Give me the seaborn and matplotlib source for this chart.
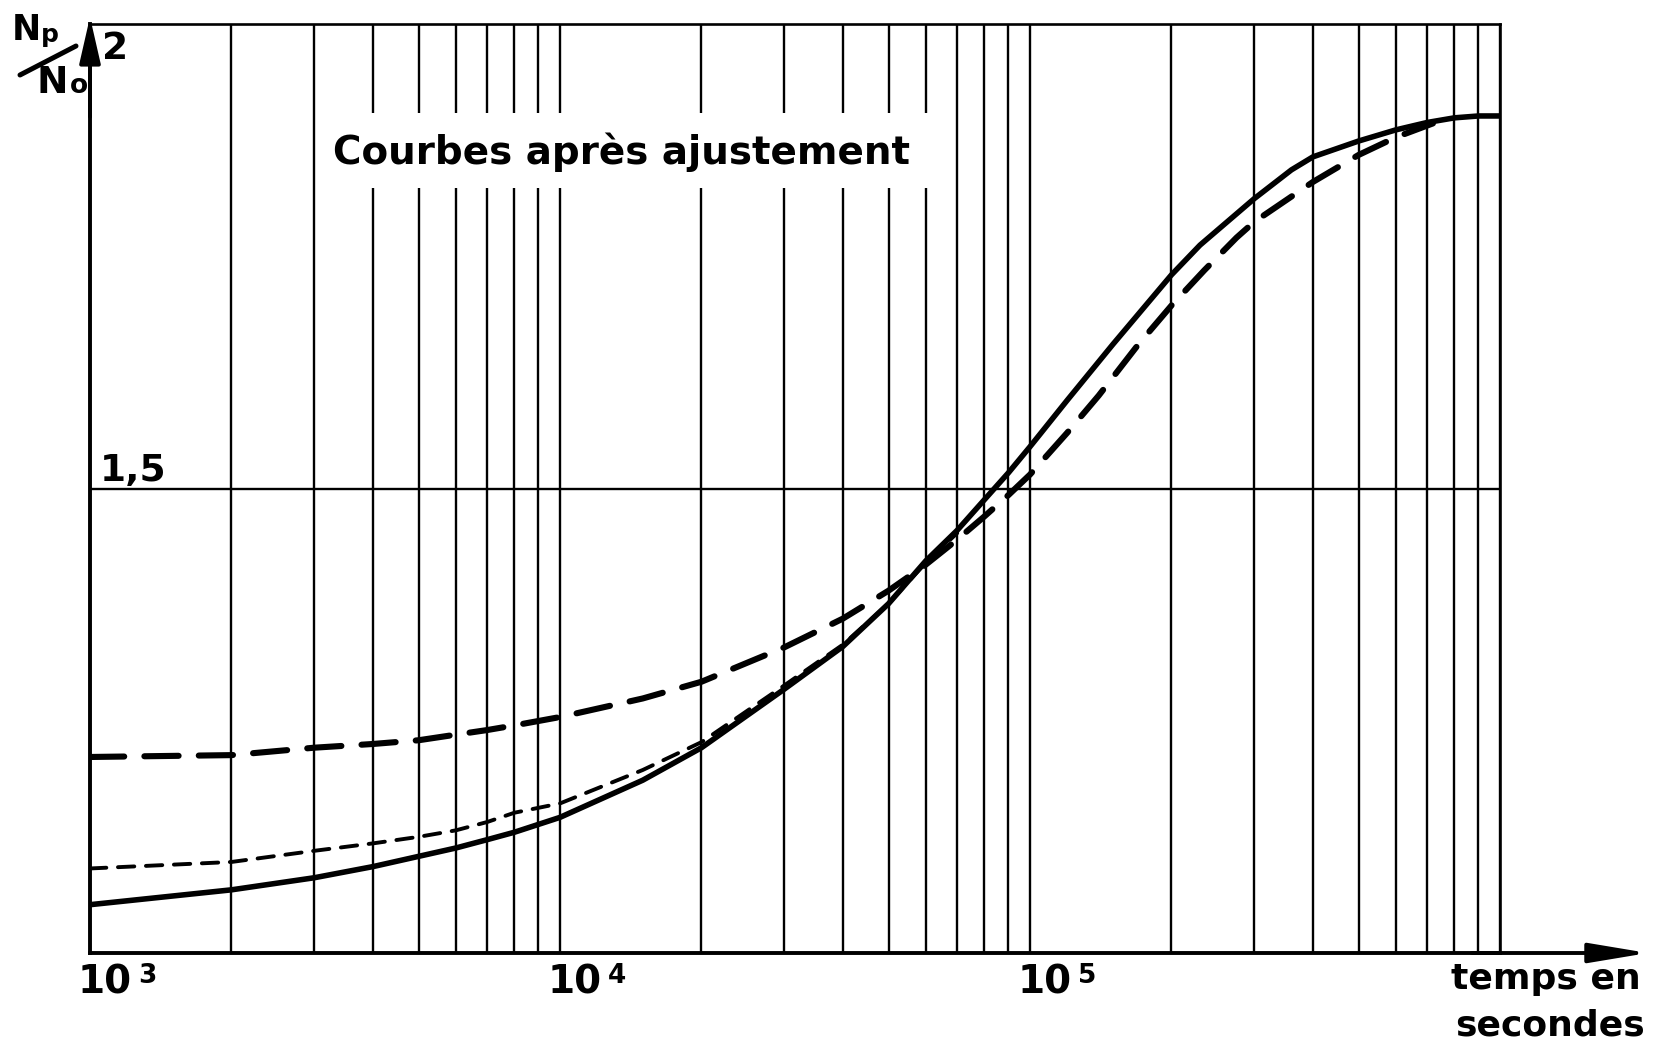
import numpy as np
import pandas as pd
import matplotlib
matplotlib.use("Agg")
import matplotlib.pyplot as plt
import seaborn as sns
import matplotlib.transforms as mtransforms
from matplotlib.ticker import LogLocator, NullFormatter, FixedLocator
from matplotlib.patches import Rectangle
from matplotlib.lines import Line2D

# ---------------- data ----------------
t_solid = [1e3, 2e3, 3e3, 4e3, 5e3, 6e3, 7e3, 8e3, 1e4, 1.5e4, 2e4, 3e4, 4e4, 5e4,
           6e4, 7e4, 8e4, 9e4, 1e5, 1.2e5, 1.5e5, 2e5, 2.3e5, 3e5, 3.6e5, 4e5, 5e5,
           6e5, 7e5, 8e5, 9e5, 1e6]
y_solid = [1.052, 1.068, 1.081, 1.093, 1.104, 1.113, 1.122, 1.130, 1.146, 1.186, 1.221,
           1.284, 1.330, 1.376, 1.422, 1.455, 1.488, 1.517, 1.545, 1.595, 1.655, 1.730,
           1.762, 1.812, 1.843, 1.857, 1.874, 1.886, 1.894, 1.899, 1.901, 1.901]

t_long_dash = [1e3, 2e3, 3e3, 4e3, 5e3, 6e3, 7e3, 8e3, 1e4, 1.5e4, 2e4, 3e4, 4e4, 5e4,
               6e4, 7e4, 8e4, 9e4, 1e5, 1.2e5, 1.4e5, 1.7e5, 2e5, 2.35e5, 2.75e5, 3e5,
               4e5, 5e5, 6e5, 7.2e5]
y_long_dash = [1.211, 1.213, 1.221, 1.225, 1.229, 1.235, 1.240, 1.245, 1.254, 1.274,
               1.292, 1.329, 1.360, 1.390, 1.418, 1.445, 1.470, 1.493, 1.515, 1.560,
               1.600, 1.655, 1.697, 1.735, 1.770, 1.787, 1.830, 1.859, 1.878, 1.893]

t_short_dash = [1e3, 2e3, 3e3, 4e3, 5e3, 6e3, 7e3, 8e3, 1e4, 1.5e4, 2e4, 3e4, 4e4,
                5e4, 6e4, 7e4]
y_short_dash = [1.091, 1.098, 1.110, 1.118, 1.125, 1.132, 1.141, 1.151, 1.161, 1.197,
                1.227, 1.288, 1.332, 1.376, 1.420, 1.452]

x_label_ticks = [1e3, 1e4, 1e5]
x_label_mant = ["10", "10", "10"]
x_label_exp = ["3", "4", "5"]
y_label_ticks = [1.5, 2.0]
y_label_text = ["1,5", "2"]

title_text = "Courbes après ajustement"
xlabel_lines = ["temps en", "secondes"]

# ---------------- style ----------------
sns.set_style("white")
plt.rcParams["font.family"] = ["DejaVu Sans"]
plt.rcParams["text.color"] = "black"
plt.rcParams["font.weight"] = "bold"

W, H = 1655, 1043
fig = plt.figure(figsize=(W / 100, H / 100), dpi=100)
ax = fig.add_axes([90 / W, 90 / H, 1410 / W, 929 / H])

ax.set_xscale("log")
ax.set_xlim(1e3, 1e6)
ax.set_ylim(1.0, 2.0)

ax.xaxis.set_major_locator(FixedLocator([1e3, 1e4, 1e5, 1e6]))
ax.xaxis.set_minor_locator(LogLocator(base=10, subs=np.arange(2, 10), numticks=30))
ax.xaxis.set_major_formatter(NullFormatter())
ax.xaxis.set_minor_formatter(NullFormatter())
ax.set_yticks([1.5])
ax.yaxis.set_major_formatter(NullFormatter())
ax.tick_params(which="both", length=0)
ax.set_axisbelow(True)
ax.grid(True, axis="x", which="both", color="black", lw=1.7)
ax.grid(True, axis="y", which="major", color="black", lw=1.7)

for side in ["left", "bottom"]:
    ax.spines[side].set_linewidth(2.8)
for side in ["top", "right"]:
    ax.spines[side].set_linewidth(1.9)
for s in ax.spines.values():
    s.set_color("black")

# ---------------- curves ----------------
sns.lineplot(x=t_solid, y=y_solid, ax=ax, color="black", linewidth=4.0, zorder=4)
ax.lines[-1].set_solid_capstyle("round")
ax.lines[-1].set_solid_joinstyle("round")

sns.lineplot(x=t_long_dash, y=y_long_dash, ax=ax, color="black", linewidth=4.4, zorder=3)
ln = ax.lines[-1]
ln.set_dashes([5.6, 3.3])
ln.set_dash_capstyle("round")
ln.set_dash_joinstyle("round")

sns.lineplot(x=t_short_dash, y=y_short_dash, ax=ax, color="black", linewidth=2.8, zorder=3)
ln = ax.lines[-1]
ln.set_dashes([4.2, 3.0])
ln.set_dash_capstyle("round")
ln.set_dash_joinstyle("round")

ax.set_xlabel("")
ax.set_ylabel("")

# white box behind the title (interrupts the grid lines)
ax.add_patch(Rectangle((322 / W, 1 - 188 / H), 613 / W, 75 / H, transform=fig.transFigure,
                       facecolor="white", edgecolor="none", zorder=1, clip_on=False))
fig.text(333 / W, 1 - 164 / H, title_text, fontsize=28, fontweight="bold",
         ha="left", va="baseline", zorder=5)

# ---------------- axis arrows ----------------
ax.annotate("", xy=(1.105, 0), xytext=(0.98, 0), xycoords="axes fraction",
            arrowprops=dict(arrowstyle="-|>,head_length=0.9,head_width=0.15", color="black",
                            lw=2.8, shrinkA=0, shrinkB=0, mutation_scale=40),
            annotation_clip=False)
ax.annotate("", xy=(0, 1.0075), xytext=(0, 0.9), xycoords="axes fraction",
            arrowprops=dict(arrowstyle="-|>,head_length=0.7,head_width=0.16", color="black",
                            lw=2.8, shrinkA=0, shrinkB=0, mutation_scale=40),
            annotation_clip=False)

# ---------------- tick labels ----------------
renderer = fig.canvas.get_renderer()
for xv, mant, ex in zip(x_label_ticks, x_label_mant, x_label_exp):
    tr = mtransforms.offset_copy(ax.get_xaxis_transform(), fig=fig, x=-12, y=-10, units="dots")
    t = ax.text(xv, 0, mant, transform=tr, ha="left", va="top", fontsize=28,
                fontweight="bold")
    bb = t.get_window_extent(renderer)
    fig.text(bb.x1 + 6, bb.y1, ex, transform=None, ha="left", va="top", fontsize=19,
             fontweight="bold")

tr15 = mtransforms.offset_copy(ax.transData, fig=fig, x=10, y=7, units="dots")
ax.text(1e3, y_label_ticks[0], y_label_text[0], transform=tr15, ha="left", va="baseline",
        fontsize=27, fontweight="bold")
tr2 = mtransforms.offset_copy(ax.transData, fig=fig, x=12, y=-7, units="dots")
ax.text(1e3, y_label_ticks[1], y_label_text[1], transform=tr2, ha="left", va="top",
        fontsize=27, fontweight="bold")

# y label  Np / No
fig.text(12 / W, 1 - 40 / H, "N", fontsize=25, fontweight="bold", ha="left", va="baseline")
fig.text(41 / W, 1 - 42 / H, "p", fontsize=18, fontweight="bold", ha="left", va="baseline")
fig.add_artist(Line2D([20 / W, 76 / W], [1 - 75 / H, 1 - 46 / H], transform=fig.transFigure,
                      color="black", lw=3.6, solid_capstyle="round"))
fig.text(37 / W, 1 - 93 / H, "N", fontsize=27, fontweight="bold", ha="left", va="baseline")
fig.text(70 / W, 1 - 93 / H, "o", fontsize=19, fontweight="bold", ha="left", va="baseline")

# x label
fig.text(1546 / W, 1 - 989 / H, xlabel_lines[0], fontsize=26, fontweight="bold",
         ha="center", va="baseline")
fig.text(1550 / W, 1 - 1036 / H, xlabel_lines[1], fontsize=26, fontweight="bold",
         ha="center", va="baseline")

fig.savefig("out.png", dpi=100)
